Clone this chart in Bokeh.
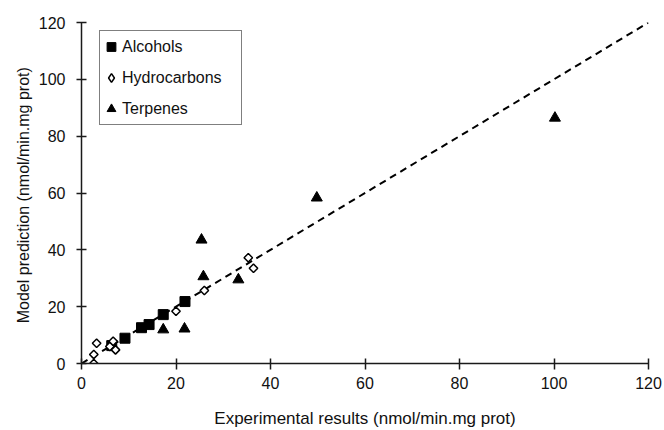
import numpy as np
from bokeh.plotting import figure
from bokeh.models import Range1d, Legend, LegendItem, SingleIntervalTicker
from bokeh.embed import file_html
from bokeh.resources import INLINE

alc_x = [6.4, 9.2, 12.7, 14.3, 17.3, 21.9]
alc_y = [6.3, 8.9, 12.6, 13.7, 17.2, 21.8]

hyd_x = [2.6, 2.6, 3.2, 6.0, 6.7, 7.2, 20.0, 26.0, 35.3, 36.4]
hyd_y = [0.0, 3.2, 7.1, 6.0, 7.8, 4.8, 18.4, 25.7, 37.2, 33.5]

ter_x = [17.3, 21.8, 25.4, 25.8, 33.2, 49.8, 100.2]
ter_y = [11.9, 12.2, 43.5, 30.6, 29.5, 58.3, 86.4]

line_x = [0, 120]
line_y = [0, 120]

FONT = "Liberation Sans"
TXT = "#111111"

p = figure(width=664, height=430, output_backend="svg", toolbar_location=None,
           x_range=Range1d(0, 120), y_range=Range1d(0, 120),
           min_border_left=81, min_border_right=16, min_border_top=22, min_border_bottom=67)
p.outline_line_color = None
p.xgrid.visible = False
p.ygrid.visible = False

for ax in (p.xaxis[0], p.yaxis[0]):
    ax.ticker = SingleIntervalTicker(interval=20)
    ax.minor_tick_line_color = None
    ax.axis_line_width = 1.5
    ax.major_tick_line_width = 1.5
    ax.axis_line_color = "#1a1a1a"
    ax.major_tick_line_color = "#1a1a1a"
    ax.major_label_text_font = FONT
    ax.major_label_text_font_size = "16px"
    ax.major_label_text_color = TXT
    ax.axis_label_text_font = FONT
    ax.axis_label_text_font_style = "normal"
    ax.axis_label_text_color = TXT

p.xaxis.major_tick_in = 5
p.xaxis.major_tick_out = 6
p.yaxis.major_tick_in = 5
p.yaxis.major_tick_out = 5

p.xaxis.axis_label = "Experimental results (nmol/min.mg prot)"
p.yaxis.axis_label = "Model prediction  (nmol/min.mg prot)"
p.xaxis.axis_label_text_font_size = "17px"
p.yaxis.axis_label_text_font_size = "16px"
p.xaxis.major_label_standoff = 7
p.xaxis.axis_label_standoff = 17
p.yaxis.major_label_standoff = 11
p.yaxis.axis_label_standoff = 4

p.line(line_x, line_y, line_color="black", line_width=2, line_dash="7 5")

r_alc = p.scatter(alc_x, alc_y, marker="square", size=10, fill_color="black", line_color="black")
r_hyd = p.scatter(hyd_x, hyd_y, marker="square", angle=np.pi / 4, size=6,
                  fill_color="white", line_color="black", line_width=1.5)
r_ter = p.scatter(ter_x, ter_y, marker="triangle", size=11, fill_color="black", line_color="black")
# hidden twin of the hydrocarbon series, used only for its legend swatch
r_hyd_key = p.scatter(hyd_x, hyd_y, marker="diamond", size=6, visible=False,
                      fill_color="white", line_color="black", line_width=1.5)

legend = Legend(items=[
    LegendItem(label="Alcohols", renderers=[r_alc]),
    LegendItem(label="Hydrocarbons", renderers=[r_hyd_key]),
    LegendItem(label="Terpenes", renderers=[r_ter]),
], location=(18, 238))
legend.label_text_font = FONT
legend.label_text_font_size = "16px"
legend.label_text_color = TXT
legend.border_line_color = "black"
legend.border_line_width = 1.5
legend.background_fill_alpha = 1
legend.inactive_fill_alpha = 0
legend.padding = 0
legend.spacing = 0
legend.label_height = 31
legend.glyph_height = 31
legend.glyph_width = 22
legend.label_standoff = 0
legend.label_width = 119
legend.margin = 0
p.add_layout(legend)

open("out.html", "w").write(file_html(p, INLINE))
